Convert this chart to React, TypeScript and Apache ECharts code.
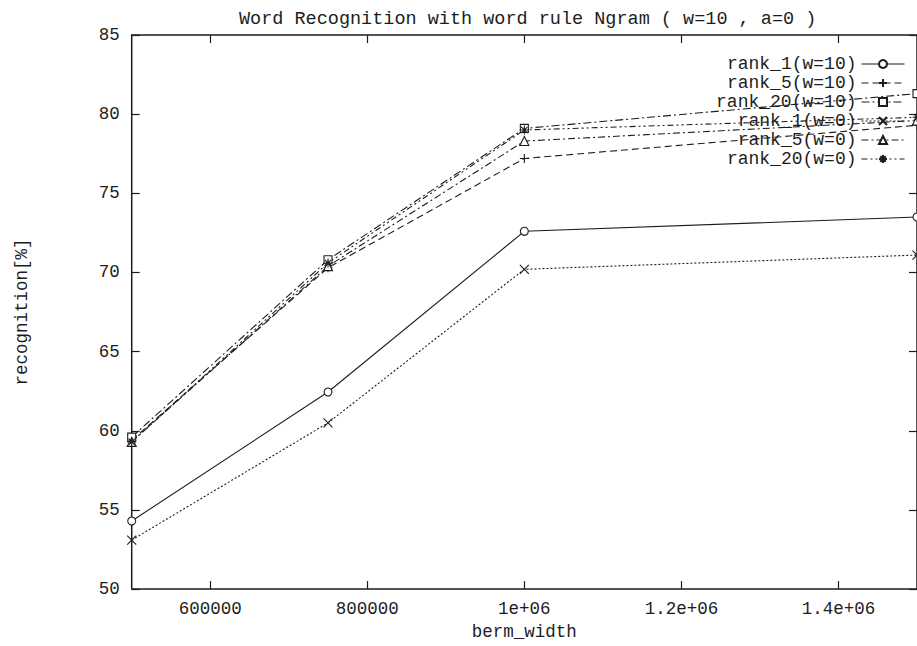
import { useEffect, useRef } from 'react';
import * as echarts from 'echarts';

// berm width sweep (x) and recognition rates [%] for each rank / window setting
const bermWidth = [500000, 750000, 1000000, 1500000];
const seriesNames = [
  'rank_1(w=10)',
  'rank_5(w=10)',
  'rank_20(w=10)',
  'rank_1(w=0)',
  'rank_5(w=0)',
  'rank_20(w=0)',
];
const rank1W10 = [54.3, 62.45, 72.6, 73.5];
const rank5W10 = [59.4, 70.3, 77.2, 79.3];
const rank20W10 = [59.6, 70.8, 79.1, 81.3];
const rank1W0 = [53.1, 60.5, 70.2, 71.1];
const rank5W0 = [59.3, 70.4, 78.3, 79.6];
const rank20W0 = [59.3, 70.6, 79.0, 79.8];
const seriesValues = [rank1W10, rank5W10, rank20W10, rank1W0, rank5W0, rank20W0];

const xTickValues = [600000, 800000, 1000000, 1200000, 1400000];
const xMin = 500000;
const xMax = 1500000;
const yMin = 50;
const yMax = 85;
const yStep = 5;

const INK = '#1d1d1d';
const MONO = '"Liberation Mono", "DejaVu Sans Mono", monospace';

const PLUS = 'path://M0,5L10,5M5,0L5,10';
const CROSS = 'path://M0,0L10,10M0,10L10,0';
const STAR = 'path://M0,5L10,5M5,0L5,10M1.5,1.5L8.5,8.5M1.5,8.5L8.5,1.5';

// open point marks: white fill, thin ink outline
const marks: { symbol: string; dash: any; size: number }[] = [
  { symbol: 'circle', dash: 'solid', size: 8 },
  { symbol: PLUS, dash: [7, 4], size: 9 },
  { symbol: 'rect', dash: [8, 3, 2, 3], size: 8 },
  { symbol: CROSS, dash: [2, 2], size: 9 },
  { symbol: 'triangle', dash: [7, 3, 2, 3], size: 9 },
  { symbol: STAR, dash: [6, 3, 2, 3, 2, 3], size: 9 },
];

// gnuplot-style tick text: 1e+06, 1.2e+06 ...
function formatTick(v: number): string {
  if (v < 1000000) return String(v);
  const exp = Math.floor(Math.log10(v));
  const mant = +(v / Math.pow(10, exp)).toFixed(3);
  return `${mant}e+${String(exp).padStart(2, '0')}`;
}

export default function App() {
  const ref = useRef<HTMLDivElement>(null);

  useEffect(() => {
    if (!ref.current) return;
    const chart = echarts.init(ref.current, undefined, { renderer: 'svg' });

    const tickLine = { lineStyle: { color: INK, width: 1.2 } };
    const labelText = { fontFamily: MONO, fontSize: 17.5, color: INK };

    chart.setOption({
      animation: false,
      backgroundColor: '#ffffff',
      title: {
        text: 'Word Recognition with word rule Ngram ( w=10 , a=0 )',
        left: 239,
        top: 10,
        padding: 0,
        textStyle: { fontFamily: MONO, fontSize: 18.5, fontWeight: 'normal', color: INK },
      },
      legend: {
        data: seriesNames,
        orient: 'vertical',
        align: 'right',
        right: 12,
        top: 55,
        padding: 0,
        itemWidth: 43,
        itemHeight: 10,
        itemGap: 1,
        selectedMode: false,
        lineStyle: { width: 1 },
        textStyle: { fontFamily: MONO, fontSize: 18, color: INK },
      },
      grid: {
        left: 131.7,
        right: -5,
        top: 35,
        bottom: 48,
        show: true,
        borderColor: INK,
        borderWidth: 1.5,
        backgroundColor: 'transparent',
      },
      xAxis: [
        {
          type: 'value',
          position: 'bottom',
          min: xMin,
          max: xMax,
          axisLine: { show: false },
          splitLine: { show: false },
          axisTick: { inside: true, length: 8, customValues: xTickValues, ...tickLine },
          axisLabel: { customValues: xTickValues, formatter: formatTick, margin: 11, ...labelText },
          name: 'berm_width',
          nameLocation: 'middle',
          nameGap: 32,
          nameTextStyle: { fontFamily: MONO, fontSize: 17.5, color: INK },
        },
        {
          type: 'value',
          position: 'top',
          min: xMin,
          max: xMax,
          axisLine: { show: false },
          splitLine: { show: false },
          axisTick: { inside: true, length: 8, customValues: xTickValues, ...tickLine },
          axisLabel: { show: false },
        },
      ],
      yAxis: [
        {
          type: 'value',
          position: 'left',
          min: yMin,
          max: yMax,
          interval: yStep,
          axisLine: { show: false },
          splitLine: { show: false },
          axisTick: { inside: true, length: 8, ...tickLine },
          axisLabel: { margin: 12, ...labelText },
          name: 'recognition[%]',
          nameLocation: 'middle',
          nameGap: 101,
          nameRotate: 90,
          nameTextStyle: { fontFamily: MONO, fontSize: 17.5, color: INK },
        },
        {
          type: 'value',
          position: 'right',
          min: yMin,
          max: yMax,
          interval: yStep,
          axisLine: { show: false },
          splitLine: { show: false },
          axisTick: { inside: true, length: 8, ...tickLine },
          axisLabel: { show: false },
        },
      ],
      series: seriesNames.map((name, k) => ({
        name,
        type: 'line',
        xAxisIndex: 0,
        yAxisIndex: 0,
        data: bermWidth.map((x, i) => [x, seriesValues[k][i]]),
        symbol: marks[k].symbol,
        symbolSize: marks[k].size,
        showAllSymbol: true,
        lineStyle: { color: INK, width: 1.1, type: marks[k].dash },
        itemStyle: { color: '#ffffff', borderColor: INK, borderWidth: 1.1 },
        emphasis: { disabled: true },
      })),
    });

    return () => chart.dispose();
  }, []);

  return (
    <div
      ref={ref}
      style={{ position: 'absolute', left: 0, top: 0, width: 917, height: 646 }}
    />
  );
}
